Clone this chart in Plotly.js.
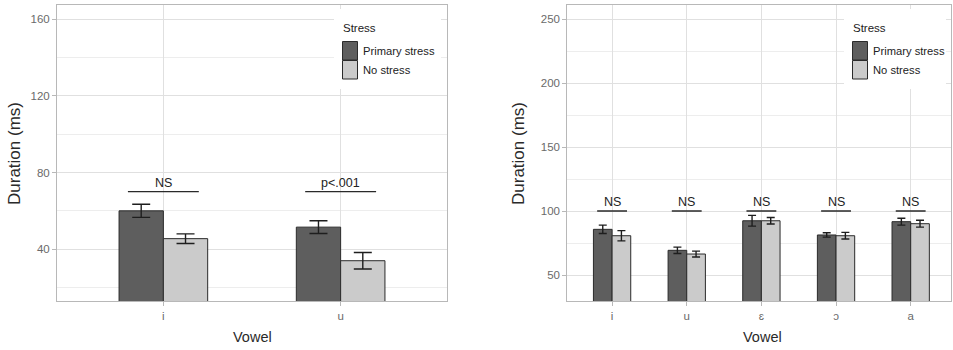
<!DOCTYPE html>
<html>
<head>
<meta charset="utf-8">
<script src="https://cdn.plot.ly/plotly-3.0.1.min.js"></script>
<style>html,body{margin:0;padding:0;background:#fff;}#chart{width:953px;height:350px;}</style>
</head>
<body>
<div id="chart"></div>
<script>
// ---- Data ----
const seriesNames = ['Primary stress', 'No stress'];
const legendTitle = 'Stress';

const vowelsLeft = ['i', 'u'];
const primaryLeft = [60, 51.5];
const noStressLeft = [45.5, 34];
const primaryErrLeft = [3.4, 3.3];
const noStressErrLeft = [2.5, 4.3];
const sigLeft = ['NS', 'p<.001'];
const sigYLeft = 70;

const vowelsRight = ['i', 'u', 'ɛ', 'ɔ', 'a'];
const primaryRight = [85.7, 69.3, 92.4, 81.3, 91.7];
const noStressRight = [80.7, 66.4, 92.4, 80.7, 90.1];
const primaryErrRight = [3.3, 2.5, 4.2, 1.7, 2.7];
const noStressErrRight = [4.0, 2.3, 2.5, 2.6, 2.7];
const sigRight = ['NS', 'NS', 'NS', 'NS', 'NS'];
const sigYRight = 100;

const yTicksLeft = [40, 80, 120, 160];
const yTicksRight = [50, 100, 150, 200, 250];

// ---- Styles ----
const W = 953, H = 350;
const SANS = '"Liberation Sans", Arial, sans-serif';
const darkFill = '#5e5e5e', lightFill = '#cbcbcb', outline = '#2b2b2b';
const px = v => v / W, py = v => 1 - v / H;

function barTrace(x, y, err, name, fill, xa, ya, capw) {
  return {
    type: 'bar', x: x, y: y, name: name, xaxis: xa, yaxis: ya,
    marker: {color: fill, line: {color: outline, width: 1}},
    error_y: {type: 'data', array: err, visible: true, color: '#1e1e1e', thickness: 1.4, width: capw},
    showlegend: false, hoverinfo: 'skip'
  };
}

const data = [
  barTrace(vowelsLeft, primaryLeft, primaryErrLeft, seriesNames[0], darkFill, 'x', 'y', 9),
  barTrace(vowelsLeft, noStressLeft, noStressErrLeft, seriesNames[1], lightFill, 'x', 'y', 9),
  barTrace(vowelsRight, primaryRight, primaryErrRight, seriesNames[0], darkFill, 'x2', 'y2', 4),
  barTrace(vowelsRight, noStressRight, noStressErrRight, seriesNames[1], lightFill, 'x2', 'y2', 4)
];

const gridC = '#e0e0e0', borderC = '#b8b8b8', tickFont = {family: SANS, size: 11.5, color: '#6a6a6a'};

function xAxis(domain, range, anchor) {
  return {
    domain: domain, range: range, anchor: anchor, type: 'category',
    showgrid: true, gridcolor: gridC, gridwidth: 1,
    showline: true, mirror: true, linecolor: borderC, linewidth: 1,
    ticks: 'outside', ticklen: 4, tickcolor: borderC, tickfont: tickFont,
    fixedrange: true, zeroline: false
  };
}
function yAxis(range, ticks, minorStep, anchor) {
  return {
    domain: [py(301), py(5)], range: range, anchor: anchor,
    tickmode: 'array', tickvals: ticks, ticktext: ticks.map(String),
    showgrid: true, gridcolor: gridC, gridwidth: 1,
    minor: {showgrid: true, gridcolor: '#e8e8e8', gridwidth: 0.8, dtick: minorStep, tick0: ticks[0] - minorStep, ticks: ''},
    showline: true, mirror: true, linecolor: borderC, linewidth: 1,
    ticks: 'outside', ticklen: 4, tickcolor: borderC, tickfont: tickFont,
    zeroline: false, fixedrange: true
  };
}

const shapes = [];
const annotations = [];

function sigMarks(cats, labels, yv, xref, yref) {
  cats.forEach((c, i) => {
    shapes.push({type: 'line', xref: xref, yref: yref, x0: i - 0.2, x1: i + 0.2, y0: yv, y1: yv,
      line: {color: '#2a2a2a', width: 1.4}, layer: 'above'});
    annotations.push({xref: xref, yref: yref, x: i, y: yv, yanchor: 'bottom', xanchor: 'center',
      text: labels[i], showarrow: false, yshift: 0, font: {family: SANS, size: 12.5, color: '#222'}});
  });
}
sigMarks(vowelsLeft, sigLeft, sigYLeft, 'x', 'y');
sigMarks(vowelsRight, sigRight, sigYRight, 'x2', 'y2');

function legendBox(bgX0, bgX1, keyX) {
  shapes.push({type: 'rect', xref: 'paper', yref: 'paper', x0: px(bgX0), x1: px(bgX1), y0: py(89), y1: py(9),
    fillcolor: '#ffffff', line: {width: 0}, layer: 'above'});
  annotations.push({xref: 'paper', yref: 'paper', x: px(keyX - 1.5), y: py(28), xanchor: 'left', yanchor: 'middle',
    text: legendTitle, showarrow: false, font: {family: SANS, size: 11.5, color: '#222'}});
  const fills = [darkFill, lightFill];
  const tops = [41.5, 60.5];
  seriesNames.forEach((n, i) => {
    shapes.push({type: 'rect', xref: 'paper', yref: 'paper', x0: px(keyX), x1: px(keyX + 15),
      y0: py(tops[i] + 18.5), y1: py(tops[i]), fillcolor: fills[i], line: {color: outline, width: 1}, layer: 'above'});
    annotations.push({xref: 'paper', yref: 'paper', x: px(keyX + 18), y: py(tops[i] + 10), xanchor: 'left', yanchor: 'middle',
      text: n, showarrow: false, font: {family: SANS, size: 11.2, color: '#222'}});
  });
}
legendBox(334, 441, 342.5);
legendBox(844, 946, 852.5);

// axis titles
[[15, 154], [519, 154]].forEach(a => {
  annotations.push({xref: 'paper', yref: 'paper', x: px(a[0]), y: py(a[1]), xanchor: 'center', yanchor: 'middle',
    text: 'Duration (ms)', textangle: -90, showarrow: false, font: {family: SANS, size: 17, color: '#2a2a2a'}});
});
[[252, 337], [762, 337]].forEach(a => {
  annotations.push({xref: 'paper', yref: 'paper', x: px(a[0]), y: py(a[1]), xanchor: 'center', yanchor: 'middle',
    text: 'Vowel', showarrow: false, font: {family: SANS, size: 14.5, color: '#2a2a2a'}});
});

const layout = {
  width: W, height: H,
  margin: {l: 0, r: 0, t: 0, b: 0, pad: 0},
  paper_bgcolor: '#ffffff', plot_bgcolor: '#ffffff',
  barmode: 'group', bargap: 0.5, bargroupgap: 0,
  showlegend: false,
  font: {family: SANS, color: '#333'},
  xaxis: xAxis([px(57), px(447)], [-0.6, 1.6], 'y'),
  yaxis: yAxis([13, 167.3], yTicksLeft, 20, 'x'),
  xaxis2: xAxis([px(567.3), px(951)], [-0.6, 4.54], 'y2'),
  yaxis2: yAxis([29.7, 261], yTicksRight, 25, 'x2'),
  shapes: shapes,
  annotations: annotations
};

Plotly.newPlot('chart', data, layout, {displayModeBar: false, staticPlot: true});
</script>
</body>
</html>
